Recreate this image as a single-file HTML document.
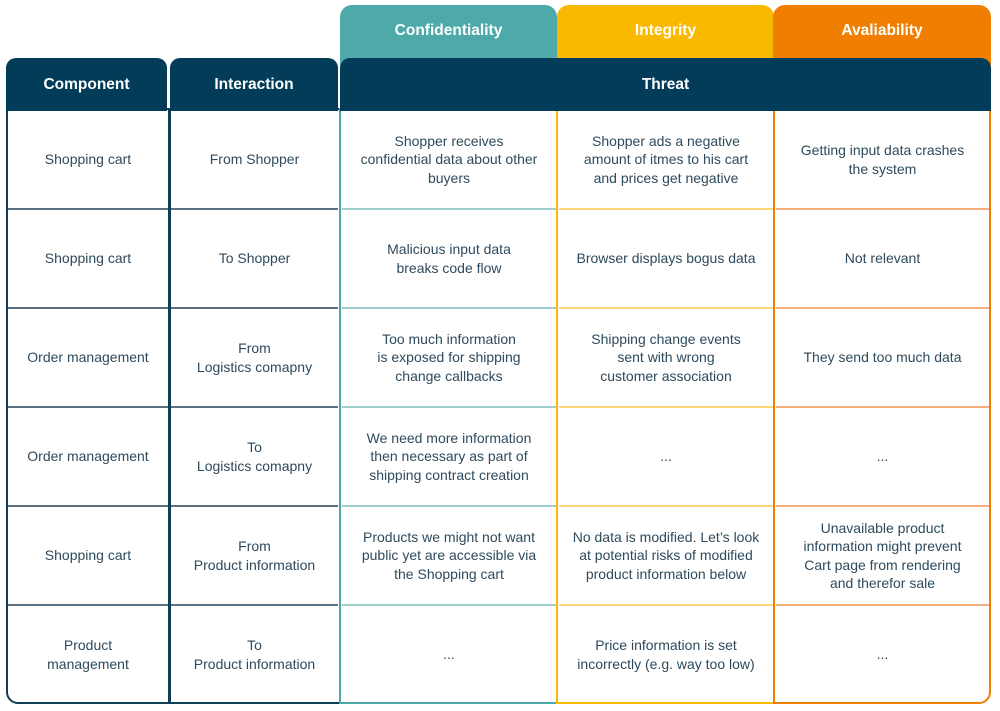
<!DOCTYPE html>
<html><head><meta charset="utf-8"><style>
body{margin:0;width:1000px;height:711px;background:#fff;position:relative;overflow:hidden;font-family:"Liberation Sans",sans-serif;}
.abs{position:absolute;box-sizing:border-box;}
.hd{display:flex;align-items:center;justify-content:center;color:#fff;font-weight:bold;font-size:15.5px;}
.cell{position:absolute;box-sizing:border-box;display:flex;align-items:center;justify-content:center;text-align:center;color:#2e4a5c;font-size:14px;line-height:18.5px;padding:0 5px;}
</style></head><body>
<div class="abs hd" style="left:340px;top:5px;width:217px;height:60px;background:#4daaa8;border-radius:12px 12px 0 0;padding-bottom:8px">Confidentiality</div>
<div class="abs hd" style="left:557px;top:5px;width:217px;height:60px;background:#f9b900;border-radius:12px 12px 0 0;padding-bottom:8px">Integrity</div>
<div class="abs hd" style="left:773px;top:5px;width:218px;height:60px;background:#f07e00;border-radius:12px 12px 0 0;padding-bottom:8px">Avaliability</div>
<div class="abs" style="left:6px;top:108px;width:164px;height:596px;border:2.5px solid #0e3d56;border-radius:0 0 0 12px"></div>
<div class="abs" style="left:168px;top:108px;width:173px;height:596px;border:2.5px solid #0e3d56;border-left-width:3px"></div>
<div class="abs" style="left:339px;top:108px;width:219px;height:596px;border:2.5px solid #4daaa8"></div>
<div class="abs" style="left:556px;top:108px;width:219px;height:596px;border:2.5px solid #f9b900"></div>
<div class="abs" style="left:773px;top:108px;width:218px;height:596px;border:2.5px solid #f07e00;border-radius:0 0 12px 0"></div>
<div class="abs hd" style="left:6px;top:58px;width:161px;height:53px;background:#033c58;border-radius:10px 10px 0 0">Component</div>
<div class="abs hd" style="left:170px;top:58px;width:168px;height:53px;background:#033c58;border-radius:10px 10px 0 0">Interaction</div>
<div class="abs hd" style="left:340px;top:58px;width:651px;height:53px;background:#033c58;border-radius:10px 10px 0 0">Threat</div>
<div id="rows"></div>
<script>
const comps=["Shopping cart","Shopping cart","Order management","Order management","Shopping cart","Product<br>management"];
const inters=["From Shopper","To Shopper","From<br>Logistics comapny","To<br>Logistics comapny","From<br>Product information","To<br>Product information"];
const conf=["Shopper receives<br>confidential data about other<br>buyers","Malicious input data<br>breaks code flow","Too much information<br>is exposed for shipping<br>change callbacks","We need more information<br>then necessary as part of<br>shipping contract creation","Products we might not want<br>public yet are accessible via<br>the Shopping cart","..."];
const integ=["Shopper ads a negative<br>amount of itmes to his cart<br>and prices get negative","Browser displays bogus data","Shipping change events<br>sent with wrong<br>customer association","...","No data is modified. Let’s look<br>at potential risks of modified<br>product information below","Price information is set<br>incorrectly (e.g. way too low)"];
const avail=["Getting input data crashes<br>the system","Not relevant","They send too much data","...","Unavailable product<br>information might prevent<br>Cart page from rendering<br>and therefor sale","..."];
const cols=[[8,160,comps,"#5a7080"],[171,167,inters,"#5a7080"],[342,214,conf,"#9fd0ce"],[559,214,integ,"#fcd57a"],[776,213,avail,"#f5b07c"]];
const top0=110,rh=99;
const root=document.getElementById('rows');
cols.forEach((c,ci)=>{
  c[2].forEach((t,ri)=>{
    const d=document.createElement('div');
    d.className='cell';
    
    
    d.style.left=c[0]+'px';d.style.top=(top0+ri*rh)+'px';d.style.width=c[1]+'px';d.style.height=rh+'px';
    d.innerHTML=t;
    root.appendChild(d);
    if(ri>0){
      const l=document.createElement('div');
      l.className='abs';
      
      
      l.style.left=c[0]+'px';l.style.top=(top0+ri*rh-1)+'px';l.style.width=c[1]+'px';l.style.height='2px';l.style.background=c[3];
      root.appendChild(l);
    }
  });
});
</script>
</body></html>
